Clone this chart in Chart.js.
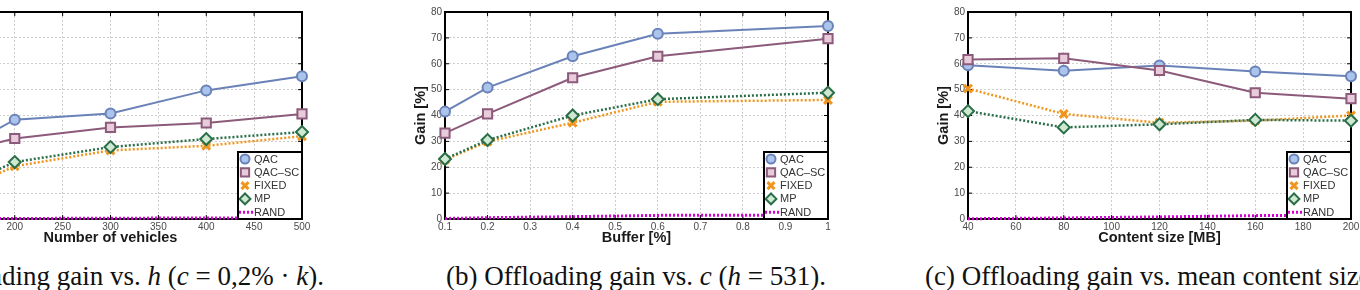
<!DOCTYPE html>
<html><head><meta charset="utf-8">
<script src="https://cdn.jsdelivr.net/npm/chart.js@4/dist/chart.umd.min.js"></script>
<style>
html,body{margin:0;padding:0;background:#fff;}
#page{position:relative;width:1360px;height:290px;overflow:hidden;background:#fff;}
.panel{position:absolute;top:0;width:440px;height:250px;}
.cap{position:absolute;top:263px;font-family:"Liberation Serif","Times New Roman",serif;font-size:27px;line-height:27px;white-space:nowrap;color:#111;}
</style></head>
<body><div id="page">
<div class="panel" style="left:-126px"><canvas id="c1" width="440" height="250"></canvas></div>
<div class="panel" style="left:400px"><canvas id="c2" width="440" height="250"></canvas></div>
<div class="panel" style="left:923px"><canvas id="c3" width="440" height="250"></canvas></div>
<div class="cap" style="right:1036px">(a) Offloading gain vs. <i>h</i> (<i>c</i> = 0,2% · <i>k</i>).</div>
<div class="cap" style="left:446px">(b) Offloading gain vs. <i>c</i> (<i>h</i> = 531).</div>
<div class="cap" style="left:925px">(c) Offloading gain vs. mean content size.</div>
</div>
<script>
// ---- data ----
const seriesNames = ['QAC', 'QAC\u2013SC', 'FIXED', 'MP', 'RAND'];
const gainTicks = [0, 10, 20, 30, 40, 50, 60, 70, 80];

// (a) gain vs number of vehicles
const vehicles = [100, 200, 300, 400, 500];
const vehicleTicks = [100, 150, 200, 250, 300, 350, 400, 450, 500];
const aQAC   = [18, 38.4, 40.8, 49.7, 55.2];
const aQACSC = [22, 31.1, 35.4, 37.1, 40.6];
const aFIXED = [4, 20.4, 26.5, 28.3, 32.0];
const aMP    = [5.6, 22.0, 27.8, 30.9, 33.6];
const aRAND  = [0.1, 0.2, 0.3, 0.4, 0.5];

// (b) gain vs buffer
const buffer = [0.1, 0.2, 0.4, 0.6, 1.0];
const bufferTicks = [0.1, 0.2, 0.3, 0.4, 0.5, 0.6, 0.7, 0.8, 0.9, 1];
const bQAC   = [41.5, 50.8, 62.9, 71.6, 74.6];
const bQACSC = [33.2, 40.6, 54.6, 62.9, 69.7];
const bFIXED = [22.9, 29.9, 37.2, 45.3, 46.0];
const bMP    = [23.2, 30.5, 40.0, 46.3, 48.8];
const bRAND  = [0.2, 0.5, 0.9, 1.4, 1.5];

// (c) gain vs content size
const contentSize = [40, 80, 120, 160, 200];
const contentTicks = [40, 60, 80, 100, 120, 140, 160, 180, 200];
const cQAC   = [59.4, 57.3, 59.3, 57.0, 55.2];
const cQACSC = [61.6, 62.1, 57.4, 48.8, 46.5];
const cFIXED = [50.4, 40.6, 37.2, 38.0, 40.0];
const cMP    = [41.7, 35.4, 36.6, 38.3, 38.0];
const cRAND  = [0.1, 0.4, 0.8, 1.3, 1.5];

// ---- styles ----
const styles = [
  {color:'#6a82b8', fill:'#aac4ec', point:'circle',   radius:5,   dash:[],    width:2},
  {color:'#8c5a7a', fill:'#e8ccdc', point:'rect',     radius:6.5, dash:[],    width:2},
  {color:'#f0961e', fill:'#f0961e', point:'crossRot', radius:5.5, dash:[2,2], width:2.5},
  {color:'#2a6e48', fill:'#cfe8d2', point:'rectRot',  radius:6,   dash:[2,2], width:2.5},
  {color:'#d400d4', fill:'#d400d4', point:false,      radius:0,   dash:[2,2], width:3}
];
const tickFont = {family:'"Liberation Sans", Arial, sans-serif', size:10};
const titleFont = {family:'"Liberation Sans", Arial, sans-serif', size:14.5, weight:'bold'};

const framePlugin = {
  id:'frame',
  beforeDatasetsDraw(chart){
    const {ctx, chartArea:a, scales} = chart;
    ctx.save();
    ctx.strokeStyle = '#000'; ctx.lineWidth = 1;
    ctx.beginPath();
    scales.y.ticks.forEach(t => {
      const y = scales.y.getPixelForValue(t.value);
      ctx.moveTo(a.left, y); ctx.lineTo(a.left + 4, y);
      ctx.moveTo(a.right, y); ctx.lineTo(a.right - 4, y);
    });
    scales.x.ticks.forEach(t => {
      const x = scales.x.getPixelForValue(t.value);
      ctx.moveTo(x, a.bottom); ctx.lineTo(x, a.bottom - 4);
      ctx.moveTo(x, a.top); ctx.lineTo(x, a.top + 4);
    });
    ctx.stroke();
    ctx.lineWidth = 2;
    ctx.strokeRect(a.left, a.top, a.right - a.left, a.bottom - a.top);
    ctx.restore();
  }
};

const legendPlugin = {
  id:'boxLegend',
  afterDatasetsDraw(chart){
    const {ctx, chartArea:a} = chart;
    const w = 64, h = 67;
    const left = a.right - w, top = a.bottom - h;
    ctx.save();
    ctx.fillStyle = '#fff';
    ctx.fillRect(left, top, w, h);
    chart.data.datasets.forEach((ds, i) => {
      const y = top + 7 + i * 13.3;
      ctx.save();
      ctx.strokeStyle = ds.borderColor; ctx.lineWidth = ds.borderWidth;
      ctx.setLineDash(ds.borderDash || []);
      if (!ds.pointStyle) {
        ctx.beginPath(); ctx.moveTo(left + 1, y); ctx.lineTo(left + 15, y); ctx.stroke();
      }
      ctx.restore();
      if (ds.pointStyle) {
        ctx.save();
        ctx.fillStyle = ds.pointBackgroundColor; ctx.strokeStyle = ds.pointBorderColor;
        ctx.lineWidth = ds.pointBorderWidth;
        Chart.helpers.drawPoint(ctx, {pointStyle: ds.pointStyle, rotation:0, radius: ds.pointRadius * 0.9, borderWidth: ds.pointBorderWidth}, left + 7, y);
        ctx.restore();
      }
      ctx.fillStyle = '#333';
      ctx.font = '11px "Liberation Sans", Arial, sans-serif';
      ctx.textBaseline = 'middle'; ctx.textAlign = 'left';
      ctx.fillText(ds.label, left + 16, y + 0.5);
    });
    ctx.strokeStyle = '#000'; ctx.lineWidth = 2;
    ctx.strokeRect(left, top, w, h);
    ctx.restore();
  }
};

function makeChart(id, xs, xTicks, series, xTitle) {
  const datasets = series.map((vals, i) => {
    const s = styles[i];
    return {
      label: seriesNames[i],
      data: xs.map((x, j) => ({x: x, y: vals[j]})),
      borderColor: s.color, backgroundColor: s.fill,
      pointBackgroundColor: s.fill, pointBorderColor: s.color,
      pointStyle: s.point, pointRadius: s.radius, pointHoverRadius: s.radius,
      pointBorderWidth: s.point === 'crossRot' ? 3 : 2,
      borderWidth: s.width, borderDash: s.dash, tension: 0,
      clip: false, order: 5 - i
    };
  });
  return new Chart(document.getElementById(id), {
    type: 'line',
    data: {datasets},
    options: {
      responsive: false, animation: false, events: [],
      layout: {padding: {top: 12, right: 12, left: 0, bottom: 0}},
      plugins: {legend: {display: false}, tooltip: {enabled: false}},
      scales: {
        x: {
          type: 'linear', min: xTicks[0], max: xTicks[xTicks.length - 1],
          afterBuildTicks: s => { s.ticks = xTicks.map(v => ({value: v})); },
          afterFit: s => { s.height = 31; },
          grid: {color: '#cdcdcd', lineWidth: 1, drawTicks: false},
          border: {display: false, dash: [2, 2]},
          ticks: {font: tickFont, color: '#4a4a4a', padding: 2, maxRotation: 0, autoSkip: false, callback: v => String(v)},
          title: {display: true, text: xTitle, font: titleFont, color: '#1a1a1a', padding: {top: 0, bottom: 3}}
        },
        y: {
          type: 'linear', min: 0, max: 80,
          afterBuildTicks: s => { s.ticks = gainTicks.map(v => ({value: v})); },
          afterFit: s => { s.width = 45; },
          grid: {color: '#cdcdcd', lineWidth: 1, drawTicks: false},
          border: {display: false, dash: [2, 2]},
          ticks: {font: tickFont, color: '#4a4a4a', padding: 3, autoSkip: false, callback: v => String(v)},
          title: {display: true, text: 'Gain [%]', font: titleFont, color: '#1a1a1a', padding: {top: 12, bottom: 0}}
        }
      }
    },
    plugins: [framePlugin, legendPlugin]
  });
}

makeChart('c1', vehicles, vehicleTicks, [aQAC, aQACSC, aFIXED, aMP, aRAND], 'Number of vehicles');
makeChart('c2', buffer, bufferTicks, [bQAC, bQACSC, bFIXED, bMP, bRAND], 'Buffer [%]');
makeChart('c3', contentSize, contentTicks, [cQAC, cQACSC, cFIXED, cMP, cRAND], 'Content size [MB]');
</script>
</body></html>
